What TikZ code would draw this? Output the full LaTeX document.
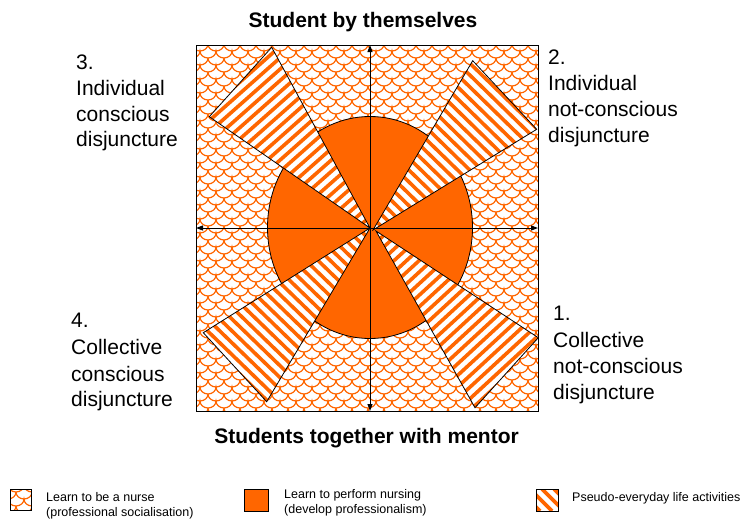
\documentclass[tikz,border=0pt]{standalone}
\usepackage{fontspec}
\setmainfont{Liberation Sans}
\usetikzlibrary{patterns,arrows.meta,calc}
\definecolor{orng}{RGB}{255,102,0}
\pgfdeclarepatternformonly{scales}{\pgfpoint{-1pt}{-1pt}}{\pgfpoint{17pt}{15pt}}{\pgfpoint{16pt}{14pt}}{
  \pgfsetlinewidth{1.2pt}
  \pgfpathmoveto{\pgfpoint{0pt}{0pt}}
  \pgfpathcurveto{\pgfpoint{4.4pt}{0pt}}{\pgfpoint{8pt}{3.1pt}}{\pgfpoint{8pt}{7pt}}
  \pgfpathcurveto{\pgfpoint{8pt}{3.1pt}}{\pgfpoint{11.6pt}{0pt}}{\pgfpoint{16pt}{0pt}}
  \pgfpathmoveto{\pgfpoint{0pt}{14pt}}
  \pgfpathcurveto{\pgfpoint{0pt}{10.1pt}}{\pgfpoint{3.6pt}{7pt}}{\pgfpoint{8pt}{7pt}}
  \pgfpathcurveto{\pgfpoint{12.4pt}{7pt}}{\pgfpoint{16pt}{10.1pt}}{\pgfpoint{16pt}{14pt}}
  \pgfusepath{stroke}
}
% #1 apex, #2 corner, #3 corner
\newcommand\mkblade[3]{%
  \begin{scope}
    \coordinate (bA) at #1;
    \coordinate (bM) at ($#2!0.5!#3$);
    \clip #1 -- #2 -- #3 -- cycle;
    \fill[white] #1 -- #2 -- #3 -- cycle;
    \foreach \k in {1,...,27} {
      \coordinate (bP) at ($(bA)!\k*8.5pt!(bM)$);
      \draw[stripe] ($(bP)!90pt!90:(bA)$) -- ($(bP)!90pt!-90:(bA)$);
    }
  \end{scope}
  \draw[outline] #1 -- #2 -- #3 -- cycle;
}
\begin{document}
\begin{tikzpicture}[x=1pt,y=-1pt,
  lbl/.style={anchor=base west,inner sep=0pt,font=\fontsize{21}{26}\selectfont},
  ttl/.style={anchor=base,inner sep=0pt,font=\fontsize{21}{26}\selectfont\bfseries},
  leg/.style={anchor=base west,inner sep=0pt,font=\fontsize{12.5}{15}\selectfont},
  outline/.style={draw=black,line width=0.8pt},
  stripe/.style={draw=orng,line width=3.6pt},
  scalefill/.style={pattern=scales,pattern color=orng},
  axis/.style={line width=1pt,{Triangle[length=7pt,width=5pt]}-{Triangle[length=7pt,width=5pt]}}
]
\useasboundingbox (0,0) rectangle (741,520);

% frame and axes ends
\coordinate (NW) at (196,45);
\coordinate (SE) at (538,411);
\coordinate (T) at (370,45);
\coordinate (B) at (370,411);
\coordinate (L) at (196,228);
\coordinate (R) at (538,228);

% background
\fill[white] (NW) rectangle (SE);
\fill[scalefill] (NW) rectangle (SE);

% central disc
\draw[outline,fill=orng] (370,227.5) ellipse [x radius=102.5, y radius=111];

% blades
\mkblade{(370,228)}{(271.7,47.3)}{(209.3,116.7)}
\mkblade{(373,230)}{(472.7,60.7)}{(536.7,129.3)}
\mkblade{(370,228)}{(203.3,332.7)}{(266.7,401.7)}
\mkblade{(376,231)}{(538.3,337.7)}{(475,407.7)}

% axes
\draw[axis] (B) -- (T);
\draw[axis] (L) -- (R);
\draw[outline] (NW) rectangle (SE);

% titles
\node[ttl] (top) at (363,27) {Student by themselves};
\node[ttl] (bot) at (366.5,443) {Students together with mentor};

% quadrant labels
\node[lbl] (q3a) at (76,69) {3.};
\node[lbl] (q3b) at (76,95) {Individual};
\node[lbl] (q3c) at (76,121) {conscious};
\node[lbl] (q3d) at (76,146) {disjuncture};

\node[lbl] (q2a) at (548,64) {2.};
\node[lbl] (q2b) at (548,90) {Individual};
\node[lbl] (q2c) at (548,116) {not-conscious};
\node[lbl] (q2d) at (548,142) {disjuncture};

\node[lbl] (q4a) at (71,327) {4.};
\node[lbl] (q4b) at (71,354) {Collective};
\node[lbl] (q4c) at (71,381) {conscious};
\node[lbl] (q4d) at (71,406) {disjuncture};

\node[lbl] (q1a) at (553,320) {1.};
\node[lbl] (q1b) at (553,347) {Collective};
\node[lbl] (q1c) at (553,373) {not-conscious};
\node[lbl] (q1d) at (553,399) {disjuncture};

% legend
\fill[white] (10,489) rectangle (31,510);
\fill[scalefill] (10,489) rectangle (31,510);
\draw[outline] (10,489) rectangle (31,510);
\node[leg] (l1a) at (46,501) {Learn to be a nurse};
\node[leg] (l1b) at (46,516) {(professional socialisation)};

\draw[outline,fill=orng] (244,489) rectangle (268,511);
\node[leg] (l2a) at (284,498) {Learn to perform nursing};
\node[leg] (l2b) at (284,513) {(develop professionalism)};

\begin{scope}
  \clip (536,489) rectangle (558,511);
  \fill[white] (536,489) rectangle (558,511);
  \foreach \s in {-30,-18,...,30} \draw[stripe] (536+\s,489) -- (558+\s,511);
\end{scope}
\draw[outline] (536,489) rectangle (558,511);
\node[leg] (l3) at (572,501) {Pseudo-everyday life activities};
\end{tikzpicture}
\end{document}
